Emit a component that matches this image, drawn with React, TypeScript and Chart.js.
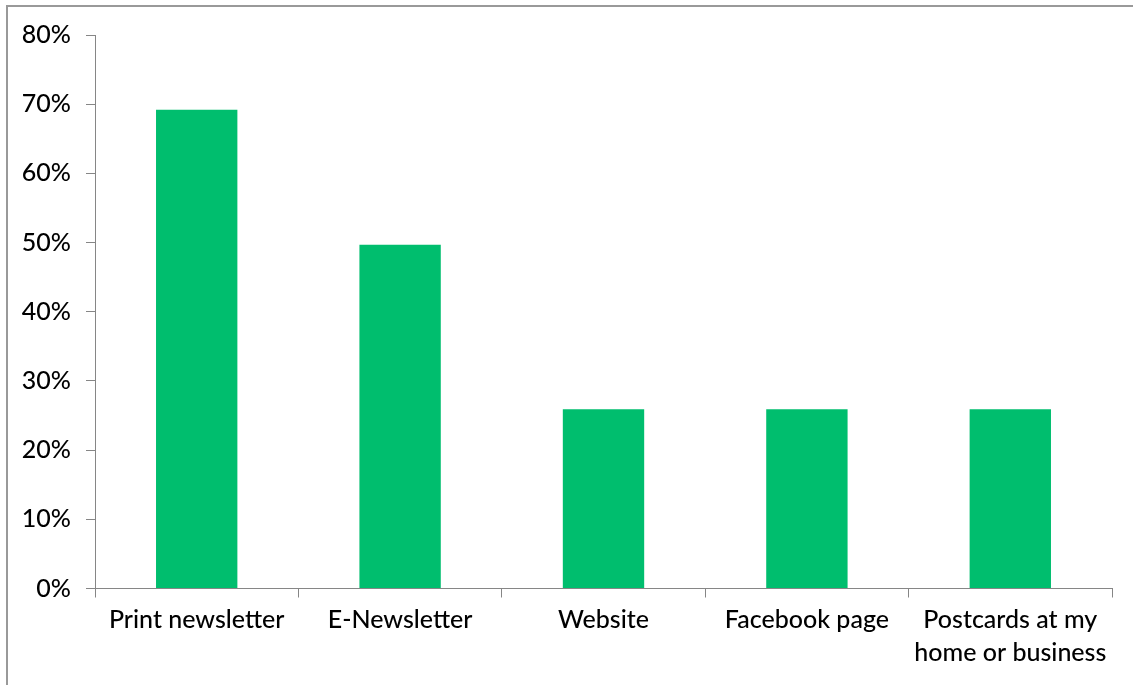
import React, { useEffect, useRef } from "react";
import { Chart, registerables } from "chart.js";

Chart.register(...registerables);

const categories: (string | string[])[] = [
  "Print newsletter",
  "E-Newsletter",
  "Website",
  "Facebook page",
  ["Postcards at my", "home or business"],
];
const shares: number[] = [69.2, 49.7, 25.9, 25.9, 25.9];
const yTicks: number[] = [0, 10, 20, 30, 40, 50, 60, 70, 80];

const FONT = "Lato, 'Liberation Sans', sans-serif";

export default function App() {
  const ref = useRef<HTMLCanvasElement | null>(null);

  useEffect(() => {
    document.body.style.margin = "0";
    const canvas = ref.current;
    if (!canvas) return;
    const chart = new Chart(canvas, {
      type: "bar",
      data: {
        labels: categories,
        datasets: [
          {
            data: shares,
            backgroundColor: "#00BE6E",
            borderWidth: 0,
            barPercentage: 0.4,
            categoryPercentage: 1,
          },
        ],
      },
      options: {
        responsive: false,
        animation: false,
        maintainAspectRatio: false,
        layout: { padding: { top: 35, right: 21, left: 0, bottom: 0 } },
        plugins: {
          legend: { display: false },
          tooltip: { enabled: false },
        },
        scales: {
          x: {
            offset: true,
            grid: {
              display: true,
              drawOnChartArea: false,
              drawTicks: true,
              tickLength: 9,
              color: "#868686",
              offset: true,
            },
            border: { display: true, color: "#868686", width: 1 },
            ticks: {
              color: "#000",
              font: { family: FONT, size: 25, weight: "500", lineHeight: 1.32 },
              padding: 6,
              maxRotation: 0,
              autoSkip: false,
            },
            afterFit: (s: any) => {
              s.height = 685 - 588.5;
              s.paddingLeft = 0;
              s.paddingRight = 0;
            },
          },
          y: {
            min: 0,
            max: 80,
            afterBuildTicks: (s: any) => {
              s.ticks = yTicks.map((v) => ({ value: v }));
            },
            grid: {
              display: true,
              drawOnChartArea: false,
              drawTicks: true,
              tickLength: 9,
              color: "#868686",
            },
            border: { display: true, color: "#868686", width: 1 },
            ticks: {
              color: "#000",
              font: { family: FONT, size: 25, weight: "500" },
              padding: 15,
              callback: (v: any) => v + "%",
            },
            afterFit: (s: any) => {
              s.width = 95;
              s.paddingTop = 0;
              s.paddingBottom = 0;
            },
          },
        },
      },
    });
    return () => chart.destroy();
  }, []);

  return (
    <div style={{ position: "relative", width: 1133, height: 685, overflow: "hidden", background: "#fff" }}>
      <canvas ref={ref} width={1133} height={685} style={{ position: "absolute", left: 0, top: 0 }} />
      <div
        style={{
          position: "absolute",
          left: 6,
          top: 5,
          width: 1200,
          height: 1000,
          borderTop: "2px solid #999",
          borderLeft: "2px solid #999",
          pointerEvents: "none",
        }}
      />
    </div>
  );
}
